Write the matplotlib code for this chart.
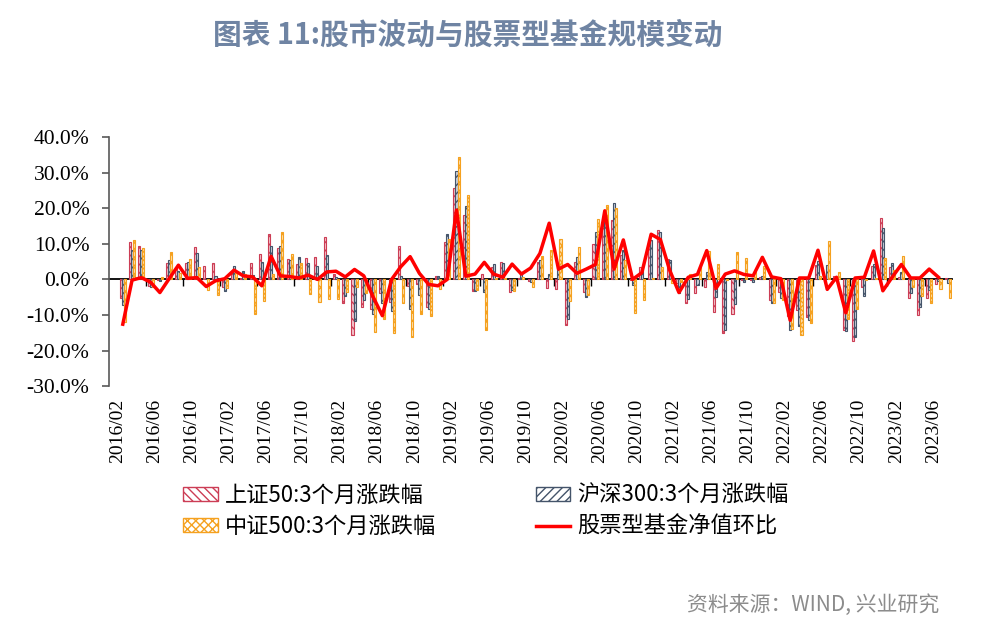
import numpy as np
import pandas as pd
import matplotlib
matplotlib.use("Agg")
import matplotlib.pyplot as plt
import matplotlib.transforms as mtransforms
from matplotlib.ticker import FuncFormatter
from matplotlib.patches import Patch
from matplotlib.lines import Line2D

# month categories, 2016/02 .. 2023/08
months = pd.date_range("2016-02-01", periods=91, freq="MS").strftime("%Y/%m").tolist()
nan = np.nan

# 3-month returns (%)
sz50 = [nan, -5.1, 10.4, 9.4, -1.8, -0.3, 4.5, 3.5, 4.5, 9.0,
        3.9, 4.5, -2.1, 2.1, 0.5, 4.7, 7.1, 12.9, 8.9, 5.6,
        4.3, 5.9, 6.4, 11.9, 1.5, -6.5, -15.5, -7.7, -8.4, -3.9,
        -6.3, 9.4, -1.8, -1.3, -7.7, 1.0, 10.6, 25.6, 18.1, -3.2,
        1.4, 3.6, 4.8, -3.5, 0.5, -0.5, 5.0, -2.3, -2.7, -12.8,
        5.0, -3.5, 9.9, 15.0, 16.7, 7.0, -0.3, 3.6, 11.1, 13.9,
        5.8, -1.0, -6.6, -3.7, -2.1, -9.3, -15.0, -9.7, -0.2, -0.3,
        0.6, -5.8, -3.5, -10.4, -8.5, -10.5, 4.0, 0.2, 1.0, -14.2,
        -17.4, -2.1, 3.7, 17.3, 3.4, 0.8, -5.1, -10.0, -5.3, -1.4,
        0.5]
hs300 = [nan, -7.2, 8.4, 8.2, -2.0, -0.5, 5.4, 2.5, 5.0, 7.3,
         0.2, 0.9, -3.2, 3.7, 2.3, 1.2, 4.8, 9.4, 9.5, 5.4,
         6.4, 4.7, 3.9, 7.0, 0.7, -4.6, -11.6, -5.8, -9.6, -6.5,
         -8.8, 0.9, -8.4, -4.4, -8.4, 0.9, 12.7, 30.6, 20.6, -3.2,
         -3.5, 4.2, 4.7, -3.0, 2.2, -0.7, 5.4, 1.4, 2.6, -11.2,
         6.2, -4.9, 13.4, 19.5, 21.4, 8.2, -1.6, 2.6, 11.2, 13.4,
         5.4, -3.9, -5.4, -1.6, 2.2, -4.9, -14.1, -6.9, -0.7, -0.8,
         0.9, -6.7, -5.3, -14.1, -13.2, -11.3, 5.1, 4.0, 0.5, -14.6,
         -16.2, -4.7, 4.2, 14.5, 4.7, 2.0, -3.9, -7.9, -3.0, -0.5,
         -1.0]
zz500 = [nan, -11.9, 11.0, 8.7, -2.0, 0.6, 7.8, 1.7, 5.6, 3.4,
         -3.0, -4.4, -2.5, 1.9, 1.5, -9.8, -6.1, 1.5, 13.4, 7.1,
         4.5, -4.0, -6.4, -5.6, -5.5, -3.5, -2.0, -3.9, -14.7, -11.2,
         -15.2, -6.6, -16.3, -9.6, -10.3, -2.8, 11.3, 34.3, 23.7, -3.0,
         -14.1, 0.5, 0.3, -3.2, 0.7, -2.2, 6.6, 8.4, 11.3, -6.0,
         9.0, -4.4, 16.9, 20.9, 20.0, 5.4, -9.4, -5.8, 0.5, 3.4,
         -0.9, -0.7, 1.5, 3.6, 8.1, 4.3, -0.3, 7.8, 6.1, 2.2,
         3.7, -6.7, -5.8, -14.0, -15.7, -12.2, 1.0, 10.8, 2.2, -11.1,
         -8.4, -0.3, 0.5, 5.9, 2.6, 6.6, -2.0, -4.8, -6.5, -2.8,
         -5.1]
# equity fund NAV, month-on-month change (%)
fund = [nan, -12.6, -0.2, 0.5, -0.8, -3.7, 0.2, 4.0, 0.3, 0.5,
        -2.0, -0.4, 0.2, 2.6, 1.0, 0.7, -1.8, 6.5, 1.0, 0.8,
        0.4, 1.2, 0.0, 2.1, 2.3, 0.7, 2.8, 1.0, -4.9, -10.2,
        0.0, 3.6, 6.4, 1.7, -1.4, -1.8, 0.0, 19.5, 0.9, 1.5,
        4.8, 1.5, 0.6, 4.3, 1.5, 3.2, 7.3, 15.8, 2.9, 4.2,
        1.7, 2.9, 4.2, 19.3, 2.9, 11.1, 0.0, 1.9, 12.7, 11.2,
        2.6, -3.7, 0.6, 1.4, 8.1, -2.5, 1.5, 2.4, 1.4, 1.0,
        6.2, 0.7, 0.2, -11.5, 0.4, 0.4, 8.2, -2.8, 0.6, -9.4,
        0.4, 0.6, 8.0, -3.2, 0.6, 4.2, 0.4, 0.4, 2.9, 0.6,
        nan]

series_names = ["上证50:3个月涨跌幅", "沪深300:3个月涨跌幅", "中证500:3个月涨跌幅", "股票型基金净值环比"]
edge_colors = ['#cc3d55', '#44546a', '#f5a11f']
fill_colors = ['#f3c5cc', '#c9cfd9', '#fde0ae']
hatches = ['\\\\\\\\', '////', 'xxxx']

plt.rcParams['font.family'] = ['Noto Sans CJK SC', 'DejaVu Sans']
plt.rcParams['hatch.linewidth'] = 1.0
serif = 'Liberation Serif'
axis_grey = '#595959'

fig = plt.figure(figsize=(9.9, 6.35), dpi=100)
ax = fig.add_axes([0.110, 0.392, 0.852, 0.392])

x = np.arange(len(months))
w = 0.22
for i, vals in enumerate([sz50, hs300, zz500]):
    ax.bar(x + (i - 1) * w, vals, w, facecolor=fill_colors[i], edgecolor=edge_colors[i],
           hatch=hatches[i], lw=0.8)
ax.plot(x, fund, color='#ff0000', lw=2.5, zorder=5)

ax.set_ylim(-30, 40)
ax.set_xlim(-0.5, len(months) - 0.5)
ax.set_yticks(np.arange(-30, 41, 10))
ax.yaxis.set_major_formatter(FuncFormatter(lambda v, p: f"{v:.1f}%"))
for side in ['top', 'right', 'bottom']:
    ax.spines[side].set_visible(False)
ax.spines['left'].set_color(axis_grey)
ax.spines['left'].set_linewidth(1.2)

ax.set_xticks(x[::4])
ax.set_xticklabels(months[::4], rotation=90, fontfamily=serif, fontsize=14)
ax.tick_params(axis='x', length=0, pad=9)
shift = mtransforms.ScaledTranslation(4 / 100, 0, fig.dpi_scale_trans)
for lab in ax.get_xticklabels():
    lab.set_transform(lab.get_transform() + shift)
ax.tick_params(axis='y', direction='out', length=5, width=1.2, color=axis_grey,
               labelsize=15.5, pad=9)
for lab in ax.get_yticklabels():
    lab.set_fontfamily(serif)

# zero line with category-boundary ticks
sec = ax.secondary_xaxis(0, transform=ax.transData)
sec.set_xticks(x[3::4] + 0.5)
sec.set_xticklabels([])
sec.tick_params(length=5, direction='out', width=1.0)
sec.spines['bottom'].set_linewidth(1.3)

handles = [Patch(facecolor='white', edgecolor=edge_colors[i], hatch=hatches[i], lw=1.0)
           for i in range(3)]
handles.append(Line2D([], [], color='#ff0000', lw=2.5))
fig.legend([handles[0], handles[2], handles[1], handles[3]],
           [series_names[0], series_names[2], series_names[1], series_names[3]],
           loc='upper left', bbox_to_anchor=(0.165, 0.269), ncol=2, frameon=False,
           fontsize=16, handlelength=1.55, handleheight=0.6, handletextpad=0.3,
           columnspacing=4.5, labelspacing=0.35)

fig.text(0.472, 0.945, "图表 11:股市波动与股票型基金规模变动", ha='center', va='center',
         fontsize=20.7, fontweight='bold', color='#6f84a3')
fig.text(0.949, 0.047, "资料来源：WIND, 兴业研究", ha='right', va='center',
         fontsize=15, color='#8c8c8c')

fig.savefig("out.png", dpi=100)
